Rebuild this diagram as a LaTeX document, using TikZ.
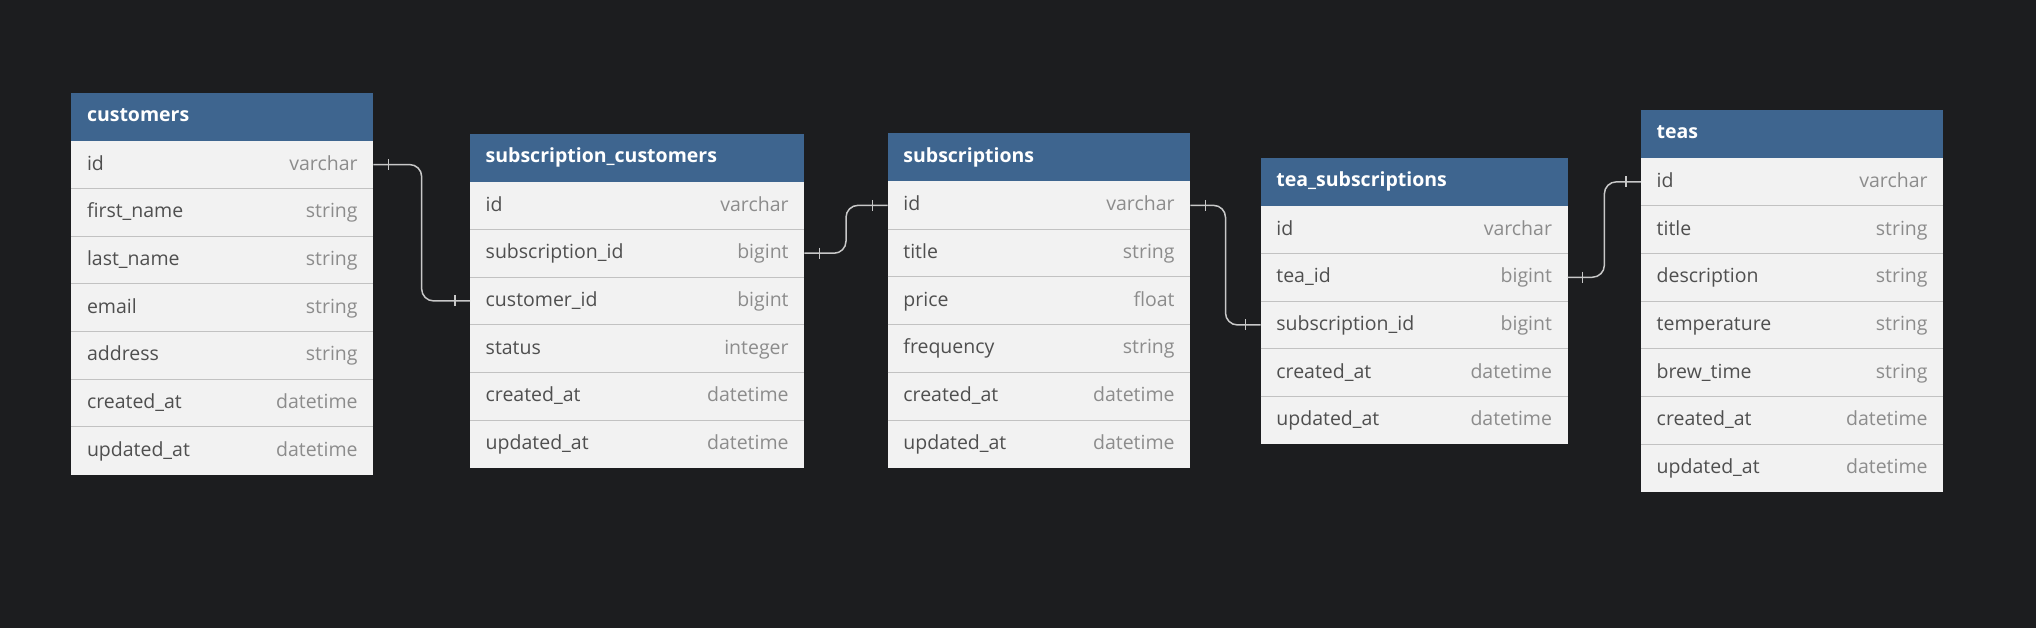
\documentclass[tikz,border=0pt]{standalone}
\usepackage{fontspec}
\setmainfont{Open Sans}
\usetikzlibrary{calc}
\definecolor{bgc}{HTML}{1C1D1F}
\definecolor{hdrblue}{HTML}{3E658F}
\definecolor{rowbg}{HTML}{F2F2F2}
\definecolor{fieldc}{HTML}{4F4F4F}
\definecolor{typec}{HTML}{8C8C8C}
\definecolor{sepc}{HTML}{C2C2C2}
\definecolor{linec}{HTML}{C8C8C8}
\newcommand\fsz{\fontsize{19.5}{23}\selectfont}
\tikzset{
  hdr/.style={fill=hdrblue, draw=none, anchor=north west, minimum height=48pt, inner sep=0pt, outer sep=0pt},
  hdrtext/.style={anchor=base west, text=white, font=\fsz\bfseries, inner sep=0pt},
  rowbox/.style={fill=rowbg, draw=none, anchor=north west, minimum height=47.7pt, inner sep=0pt, outer sep=0pt},
  fname/.style={anchor=base west, text=fieldc, font=\fsz, inner sep=0pt},
  ftype/.style={anchor=base east, text=typec, font=\fsz, inner sep=0pt},
  sepline/.style={draw=sepc, line width=1pt},
  rel/.style={draw=linec, line width=1.5pt, rounded corners=12pt},
  tickmark/.style={draw=linec, line width=1.3pt},
}
\newcommand\erdtab[6]{%
  \node[hdr, minimum width=#4pt] (#1) at (#2,#3) {};
  \node[hdrtext] (#1-title) at ([xshift=15.5pt,yshift=-5pt]#1.west) {#5};
  \foreach [count=\i] \fa/\fb in {#6} {
    \node[rowbox, minimum width=#4pt] (#1-\i) at ([yshift={-(\i-1)*47.7pt}]#1.south west) {};
    \node[fname] (#1-\i-f) at ([xshift=15.5pt,yshift=-5.5pt]#1-\i.west) {\fa};
    \node[ftype] (#1-\i-t) at ([xshift=-15.5pt,yshift=-5.5pt]#1-\i.east) {\fb};
    \ifnum\i>1 \draw[sepline] (#1-\i.north west) -- (#1-\i.north east);\fi
  }
}
\newcommand\erdrel[2]{%
  \draw[rel] (#1.east) -| ($(#1.east)!0.5!(#2.west)$) |- (#2.west);
  \draw[tickmark] ([xshift=15pt,yshift=5.5pt]#1.east) -- ([xshift=15pt,yshift=-5.5pt]#1.east);
  \draw[tickmark] ([xshift=-15pt,yshift=5.5pt]#2.west) -- ([xshift=-15pt,yshift=-5.5pt]#2.west);
}
\begin{document}
\begin{tikzpicture}[x=1pt,y=-1pt]
\fill[bgc] (0,0) rectangle (2036,628);
\useasboundingbox (0,0) rectangle (2036,628);
\erdtab{cust}{71.3}{92.7}{302}{customers}{id/varchar, first\_name/string, last\_name/string, email/string, address/string, created\_at/datetime, updated\_at/datetime}
\erdtab{subcust}{470}{133.7}{334.3}{subscription\_customers}{id/varchar, subscription\_id/bigint, customer\_id/bigint, status/integer, created\_at/datetime, updated\_at/datetime}
\erdtab{subs}{887.7}{133.5}{302.6}{subscriptions}{id/varchar, title/string, price/float, frequency/string, created\_at/datetime, updated\_at/datetime}
\erdtab{teasub}{1260.7}{157.7}{307}{tea\_subscriptions}{id/varchar, tea\_id/bigint, subscription\_id/bigint, created\_at/datetime, updated\_at/datetime}
\erdtab{teas}{1641}{110}{302.3}{teas}{id/varchar, title/string, description/string, temperature/string, brew\_time/string, created\_at/datetime, updated\_at/datetime}
\erdrel{cust-1}{subcust-3}
\erdrel{subcust-2}{subs-1}
\erdrel{subs-1}{teasub-3}
\erdrel{teasub-2}{teas-1}
\end{tikzpicture}
\end{document}
